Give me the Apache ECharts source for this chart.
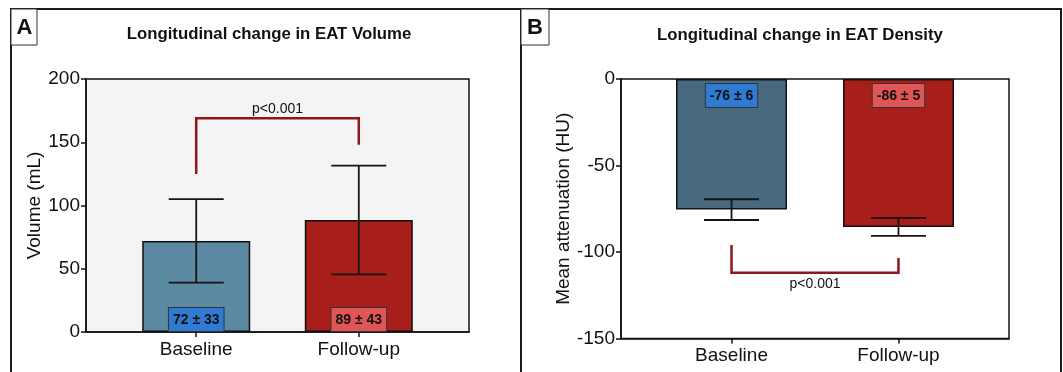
<!DOCTYPE html>
<html>
<head>
<meta charset="utf-8">
<script src="https://cdn.jsdelivr.net/npm/echarts@6/dist/echarts.min.js"></script>
<style>
html,body{margin:0;padding:0;background:#fff;}
#chart{width:1063px;height:372px;}
</style>
</head>
<body>
<div id="chart"></div>
<script>
// ---- data ----
const categories = ['Baseline', 'Follow-up'];
const volumeMean = [72, 88.5];
const volumeSD = [33, 43];
const volumeText = ['72 ± 33', '89 ± 43'];
const densityMean = [-75.5, -85.5];
const densitySD = [6, 5.2];
const densityText = ['-76 ± 6', '-86 ± 5'];
const volumeTicks = [0, 50, 100, 150, 200];
const densityTicks = [-150, -100, -50, 0];
const pText = 'p<0.001';
const volumeBracketEnds = [125, 148];
const volumeBracketLevel = 169;
const volumeP = 176;
const densityBracketEnds = [-96, -103.5];
const densityBracketLevel = -112;
const densityP = -118.5;

// ---- styles ----
const FONT = '"Liberation Sans", Arial, Helvetica, sans-serif';
const barColorsA = ['#5b89a1', '#a81e1b'];
const barColorsB = ['#476a7e', '#a81e1b'];
const boxColors = ['#2f7bd3', '#e05555'];
const bracketColor = '#8e1717';

function barData(means, colors, texts) {
  return means.map((m, i) => ({
    value: [i, m],
    itemStyle: { color: colors[i] },
    label: { backgroundColor: boxColors[i], formatter: texts[i] }
  }));
}

function errData(means, sds) {
  return means.map((m, i) => [i, m - sds[i], m + sds[i]]);
}

function errRender(params, api) {
  const x = api.value(0);
  const lo = api.coord([x, api.value(1)]);
  const hi = api.coord([x, api.value(2)]);
  const hw = 27.5;
  const st = { stroke: '#151515', lineWidth: 1.8 };
  return {
    type: 'group',
    children: [
      { type: 'line', shape: { x1: hi[0], y1: hi[1], x2: lo[0], y2: lo[1] }, style: st },
      { type: 'line', shape: { x1: hi[0] - hw, y1: hi[1], x2: hi[0] + hw, y2: hi[1] }, style: st },
      { type: 'line', shape: { x1: lo[0] - hw, y1: lo[1], x2: lo[0] + hw, y2: lo[1] }, style: st }
    ]
  };
}

function bracketRender(ends, level, pY) {
  return function (params, api) {
    if (params.dataIndex !== 0) return null;
    const a = api.coord([0, ends[0]]);
    const b = api.coord([0, level]);
    const c = api.coord([1, level]);
    const d = api.coord([1, ends[1]]);
    const t = api.coord([0.5, pY]);
    return {
      type: 'group',
      children: [
        { type: 'polyline', shape: { points: [a, b, c, d] },
          style: { stroke: bracketColor, lineWidth: 2.5, fill: null } },
        { type: 'text', x: t[0], y: t[1],
          style: { text: pText, fill: '#111', font: '14px ' + FONT, textAlign: 'center', textVerticalAlign: 'middle' } }
      ]
    };
  };
}

function xAxisCfg(gridIndex, min, max) {
  return {
    type: 'value', gridIndex, min, max,
    splitLine: { show: false },
    axisLine: { show: true, onZero: false, lineStyle: { color: '#111', width: 1.5 } },
    axisTick: { show: true, customValues: [0, 1], length: 5, lineStyle: { color: '#111', width: 1.5 } },
    axisLabel: {
      customValues: [0, 1],
      formatter: v => categories[Math.round(v)] || '',
      color: '#111', fontSize: 19, fontFamily: FONT, margin: 8
    }
  };
}

function yAxisCfg(gridIndex, ticks, name, nameGap) {
  return {
    type: 'value', gridIndex,
    min: ticks[0], max: ticks[ticks.length - 1], interval: 50,
    name, nameLocation: 'middle', nameGap, nameRotate: 90,
    nameTextStyle: { color: '#111', fontSize: 19, fontFamily: FONT },
    splitLine: { show: false },
    axisLine: { show: true, onZero: false, lineStyle: { color: '#111', width: 1.5 } },
    axisTick: { show: true, length: 5, lineStyle: { color: '#111', width: 1.5 } },
    axisLabel: { color: '#111', fontSize: 19, fontFamily: FONT, margin: 6 }
  };
}

const barLabelBase = {
  show: true, color: '#111', fontSize: 14, fontWeight: 'bold', fontFamily: FONT,
  borderColor: '#333', borderWidth: 1, padding: [5, 4, 4, 4]
};

const option = {
  animation: false,
  backgroundColor: '#fff',
  grid: [
    { left: 86, top: 79, width: 383, height: 253, show: true, backgroundColor: '#f4f4f4', borderColor: '#111', borderWidth: 1.5 },
    { left: 621, top: 79, width: 388, height: 259.5, show: true, backgroundColor: '#fff', borderColor: '#111', borderWidth: 1.5 }
  ],
  xAxis: [xAxisCfg(0, -0.678, 1.678), xAxisCfg(1, -0.662, 1.662)],
  yAxis: [
    yAxisCfg(0, volumeTicks, 'Volume (mL)', 42),
    yAxisCfg(1, densityTicks, 'Mean attenuation (HU)', 47)
  ],
  series: [
    {
      type: 'bar', xAxisIndex: 0, yAxisIndex: 0, barWidth: 108,
      data: barData(volumeMean, barColorsA, volumeText),
      itemStyle: { borderColor: '#111', borderWidth: 1.5 },
      label: Object.assign({}, barLabelBase, { position: 'insideBottom', distance: 1 }),
      z: 2
    },
    {
      type: 'custom', xAxisIndex: 0, yAxisIndex: 0,
      data: errData(volumeMean, volumeSD), renderItem: errRender, z: 3
    },
    {
      type: 'custom', xAxisIndex: 0, yAxisIndex: 0,
      data: [[0, volumeBracketLevel]], renderItem: bracketRender(volumeBracketEnds, volumeBracketLevel, volumeP), z: 4
    },
    {
      type: 'bar', xAxisIndex: 1, yAxisIndex: 1, barWidth: 111,
      data: barData(densityMean, barColorsB, densityText),
      itemStyle: { borderColor: '#111', borderWidth: 1.5 },
      label: Object.assign({}, barLabelBase, { position: 'insideTop', distance: 5 }),
      z: 2
    },
    {
      type: 'custom', xAxisIndex: 1, yAxisIndex: 1,
      data: errData(densityMean, densitySD), renderItem: errRender, z: 3
    },
    {
      type: 'custom', xAxisIndex: 1, yAxisIndex: 1,
      data: [[0, densityBracketLevel]], renderItem: bracketRender(densityBracketEnds, densityBracketLevel, densityP), z: 4
    }
  ],
  graphic: [
    { type: 'rect', shape: { x: 11, y: 9, width: 510, height: 420 }, style: { fill: null, stroke: '#1a1a1a', lineWidth: 2 }, z: 10 },
    { type: 'rect', shape: { x: 521, y: 9, width: 540, height: 420 }, style: { fill: null, stroke: '#1a1a1a', lineWidth: 2 }, z: 10 },
    { type: 'rect', shape: { x: 11, y: 9, width: 26, height: 36 }, style: { fill: '#fff', stroke: '#333', lineWidth: 1 }, z: 11 },
    { type: 'rect', shape: { x: 521, y: 9, width: 28, height: 36 }, style: { fill: '#fff', stroke: '#333', lineWidth: 1 }, z: 11 },
    { type: 'text', x: 24.5, y: 28, style: { text: 'A', fill: '#111', font: 'bold 22px ' + FONT, textAlign: 'center', textVerticalAlign: 'middle' }, z: 12 },
    { type: 'text', x: 535, y: 28, style: { text: 'B', fill: '#111', font: 'bold 22px ' + FONT, textAlign: 'center', textVerticalAlign: 'middle' }, z: 12 },
    { type: 'text', x: 269, y: 34, style: { text: 'Longitudinal change in EAT Volume', fill: '#111', font: 'bold 16.8px ' + FONT, textAlign: 'center', textVerticalAlign: 'middle' }, z: 12 },
    { type: 'text', x: 800, y: 35, style: { text: 'Longitudinal change in EAT Density', fill: '#111', font: 'bold 16.8px ' + FONT, textAlign: 'center', textVerticalAlign: 'middle' }, z: 12 }
  ]
};

const chart = echarts.init(document.getElementById('chart'), null, { renderer: 'canvas' });
chart.setOption(option);
</script>
</body>
</html>
